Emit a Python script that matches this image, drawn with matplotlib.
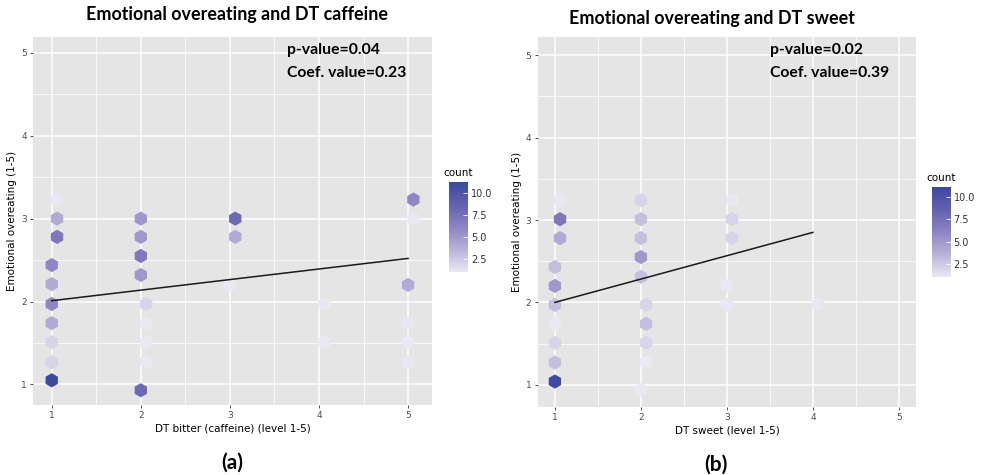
import numpy as np
import matplotlib.pyplot as plt
from matplotlib.colors import LinearSegmentedColormap, Normalize
from matplotlib.colorbar import ColorbarBase

# hexbin cells: level of taste, emotional overeating score, count
caff_x = [1, 1, 1, 1, 1, 1, 1, 1.06, 1.06, 1.06,
          2, 2, 2, 2, 2.06, 2.06, 2.06, 2.06, 2,
          3.06, 3.06, 3,
          4.06, 4.06,
          5.06, 5.06, 5, 5, 5, 5]
caff_y = [1.05, 1.27, 1.51, 1.74, 1.97, 2.21, 2.44, 2.78, 3.0, 3.23,
          3.0, 2.78, 2.55, 2.32, 1.97, 1.74, 1.51, 1.27, 0.93,
          3.0, 2.78, 2.2,
          1.97, 1.51,
          3.23, 3.0, 2.2, 1.74, 1.51, 1.27]
caff_n = [11, 2, 2, 4, 6, 4, 6, 7, 4, 1,
          5, 5, 7, 5, 2, 1, 1, 1, 8,
          8, 4, 1,
          1, 1,
          6, 1, 4, 1, 1, 1]

sweet_x = [1, 1, 1, 1, 1, 1, 1, 1.06, 1.06, 1.06,
           2, 2, 2, 2, 2, 2, 2.06, 2.06, 2.06, 2.06,
           3.06, 3.06, 3.06, 3, 3,
           4.06]
sweet_y = [1.04, 1.27, 1.51, 1.75, 1.97, 2.2, 2.43, 2.78, 3.01, 3.24,
           3.24, 3.01, 2.78, 2.55, 2.31, 0.94, 1.97, 1.74, 1.51, 1.27,
           3.24, 3.01, 2.78, 2.2, 1.97,
           1.98]
sweet_n = [11, 3, 2, 1, 3, 5, 3, 4, 7, 1,
           2, 3, 3, 5, 3, 1, 2, 3, 2, 1,
           1, 2, 2, 1, 1,
           1]

# fitted lines (start, end)
caff_fit_x = [1, 5]
caff_fit_y = [2.01, 2.52]
sweet_fit_x = [1, 4]
sweet_fit_y = [2.0, 2.85]

cmap = LinearSegmentedColormap.from_list(
    "cnt", ["#EAE8F3", "#B9B2D9", "#8D84C3", "#6460B0", "#3A48A0"])
norm = Normalize(vmin=1, vmax=11.2)

panel_bg = "#E5E5E5"


def draw_panel(ax, x, y, n, fx, fy, xlim, ylim):
    ax.set_facecolor(panel_bg)
    for s in ax.spines.values():
        s.set_visible(False)
    ax.set_xlim(*xlim)
    ax.set_ylim(*ylim)
    ax.set_xticks([1, 2, 3, 4, 5])
    ax.set_yticks([1, 2, 3, 4, 5])
    ax.set_xticks([1.5, 2.5, 3.5, 4.5], minor=True)
    ax.set_yticks([1.5, 2.5, 3.5, 4.5], minor=True)
    ax.grid(True, which="major", color="white", lw=1.1)
    ax.grid(True, which="minor", color="white", lw=0.55)
    ax.set_axisbelow(True)
    ax.tick_params(which="major", length=2.5, width=0.6, color="#333333",
                   labelsize=6.5, labelcolor="#4D4D4D", pad=2)
    ax.tick_params(which="minor", length=0)
    ax.scatter(x, y, c=n, cmap=cmap, norm=norm, marker="h", s=105,
               linewidths=0, zorder=3)
    ax.plot(fx, fy, color="#1A1A1A", lw=1.1, zorder=4)


fig = plt.figure(figsize=(9.83, 4.75), dpi=100)

ax1 = fig.add_axes([0.0336, 0.147, 0.406, 0.775])
draw_panel(ax1, caff_x, caff_y, caff_n, caff_fit_x, caff_fit_y,
           (0.79, 5.27), (0.75, 5.19))
ax1.set_xlabel("DT bitter (caffeine) (level 1-5)", fontsize=7.5, labelpad=2)
ax1.set_ylabel("Emotional overeating (1-5)", fontsize=7.5, labelpad=3)
ax1.text(0.637, 0.985, "p-value=0.04\nCoef. value=0.23", transform=ax1.transAxes,
         fontfamily="Lato", fontweight="bold", fontsize=11.3, va="top",
         linespacing=1.85)

ax2 = fig.add_axes([0.547, 0.143, 0.385, 0.779])
draw_panel(ax2, sweet_x, sweet_y, sweet_n, sweet_fit_x, sweet_fit_y,
           (0.80, 5.2), (0.73, 5.22))
ax2.set_xlabel("DT sweet (level 1-5)", fontsize=7.5, labelpad=2)
ax2.set_ylabel("Emotional overeating (1-5)", fontsize=7.5, labelpad=3)
ax2.text(0.614, 0.985, "p-value=0.02\nCoef. value=0.39", transform=ax2.transAxes,
         fontfamily="Lato", fontweight="bold", fontsize=11.3, va="top",
         linespacing=1.85)

# colour legends
for left, bottom in [(0.457, 0.427), (0.948, 0.417)]:
    cax = fig.add_axes([left, bottom, 0.0193, 0.19])
    cb = ColorbarBase(cax, cmap=cmap, norm=norm, ticks=[2.5, 5.0, 7.5, 10.0])
    cb.outline.set_visible(False)
    cb.ax.set_yticklabels(["2.5", "5.0", "7.5", "10.0"])
    cax.tick_params(length=3.5, width=0.6, color="white", direction="in",
                    labelsize=7, labelcolor="#333333", pad=2)
    cax.set_title("count", fontsize=7.5, loc="left", pad=4, x=-0.3)

fig.text(0.241, 0.97, "Emotional overeating and DT caffeine", fontfamily="Lato",
         fontweight="bold", fontsize=12.9, ha="center", va="center")
fig.text(0.724, 0.962, "Emotional overeating and DT sweet", fontfamily="Lato",
         fontweight="bold", fontsize=12.9, ha="center", va="center")
fig.text(0.236, 0.027, "(a)", fontfamily="Lato", fontweight="bold",
         fontsize=15, ha="center", va="center")
fig.text(0.728, 0.021, "(b)", fontfamily="Lato", fontweight="bold",
         fontsize=15, ha="center", va="center")

fig.savefig("out.png", dpi=100)
